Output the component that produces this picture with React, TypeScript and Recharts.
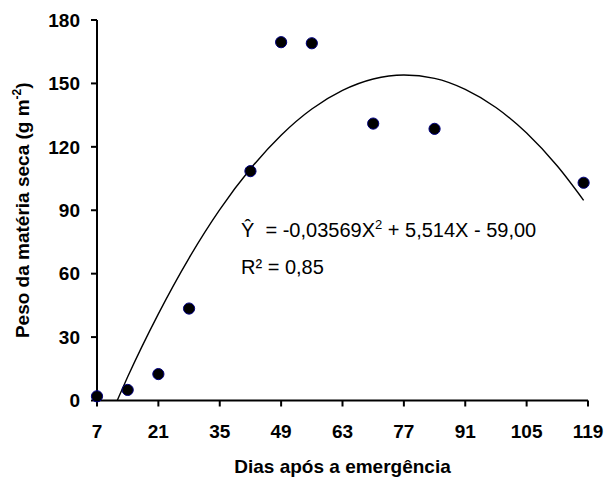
import React from 'react';
import { ComposedChart, Scatter, Line, XAxis, YAxis } from 'recharts';

// observed dry mass (g m-2) by days after emergence
const days = [7, 14, 21, 28, 42, 49, 56, 70, 84, 118];
const dryMass = [2, 5, 12.5, 43.5, 108.5, 169.5, 169, 131, 128.5, 103];

// fitted curve
const fitDays = [11.6, 14, 21, 28, 35, 42, 49, 56, 63, 70, 77, 84, 91, 98, 105, 112, 118];
const fitMass = [0, 11.2, 41.0, 67.4, 90.3, 109.6, 125.5, 137.9, 146.7, 152.1, 154.0, 152.4, 147.2, 138.6, 126.5, 110.9, 94.7];

const xTicks = [7, 21, 35, 49, 63, 77, 91, 105, 119];
const yTicks = [0, 30, 60, 90, 120, 150, 180];

const points = days.map((x, i) => ({ x, y: dryMass[i] }));
const curve = fitDays.map((x, i) => ({ x, y: fitMass[i] }));

const font = '"Liberation Sans", Arial, sans-serif';
const tickStyle = { fontFamily: font, fontWeight: 'bold', fontSize: 19, fill: '#000' };

const Dot = (props: any) => (
  <circle cx={props.cx} cy={props.cy} r={5.6} fill="#000" stroke="#000080" strokeWidth={1} />
);

const YTitle = (props: any) => {
  const vb = props.viewBox || { x: 0, y: 20, width: 97, height: 380 };
  const cx = vb.x + 29;
  const cy = vb.y + vb.height / 2;
  return (
    <text
      x={cx}
      y={cy}
      transform={`rotate(-90 ${cx} ${cy})`}
      textAnchor="middle"
      fontFamily={font}
      fontWeight="bold"
      fontSize={19}
      fill="#000"
    >
      Peso da matéria seca (g m
      <tspan dy={-8} fontSize={12}>-2</tspan>
      <tspan dy={8}>)</tspan>
    </text>
  );
};

const XTitle = (props: any) => {
  const vb = props.viewBox || { x: 97, y: 400, width: 491, height: 40 };
  return (
    <text
      x={vb.x + vb.width / 2}
      y={vb.y + 72.5}
      textAnchor="middle"
      fontFamily={font}
      fontWeight="bold"
      fontSize={19}
      fill="#000"
    >
      Dias após a emergência
    </text>
  );
};

export default function App() {
  return (
    <div style={{ position: 'absolute', left: 0, top: 0, background: '#fff' }}>
      <ComposedChart
        width={607}
        height={477}
        margin={{ top: 20, right: 19, left: 0, bottom: 36.5 }}
      >
        <XAxis
          type="number"
          dataKey="x"
          domain={[7, 119]}
          ticks={xTicks}
          interval={0}
          height={40}
          tickSize={6}
          tickMargin={18}
          axisLine={{ stroke: '#000', strokeWidth: 2 }}
          tickLine={{ stroke: '#000', strokeWidth: 2 }}
          tick={tickStyle}
          label={{ content: XTitle }}
        />
        <YAxis
          type="number"
          dataKey="y"
          domain={[0, 180]}
          ticks={yTicks}
          interval={0}
          width={97}
          tickSize={6}
          tickMargin={11}
          axisLine={{ stroke: '#000', strokeWidth: 2 }}
          tickLine={{ stroke: '#000', strokeWidth: 2 }}
          tick={tickStyle}
          label={{ content: YTitle }}
        />
        <Line
          data={curve}
          dataKey="y"
          type="monotone"
          stroke="#000"
          strokeWidth={1.4}
          dot={false}
          activeDot={false}
          isAnimationActive={false}
        />
        <Scatter data={points} dataKey="y" shape={Dot} isAnimationActive={false} />
        <text x={241} y={237} fontFamily={font} fontSize={20} fill="#000">
          {'Ŷ\u00a0 = -0,03569X'}
          <tspan dy={-8} fontSize={13}>2</tspan>
          <tspan dy={8}>{'\u00a0+ 5,514X - 59,00'}</tspan>
        </text>
        <text x={241} y={274} fontFamily={font} fontSize={20} fill="#000">
          R² = 0,85
        </text>
      </ComposedChart>
    </div>
  );
}
